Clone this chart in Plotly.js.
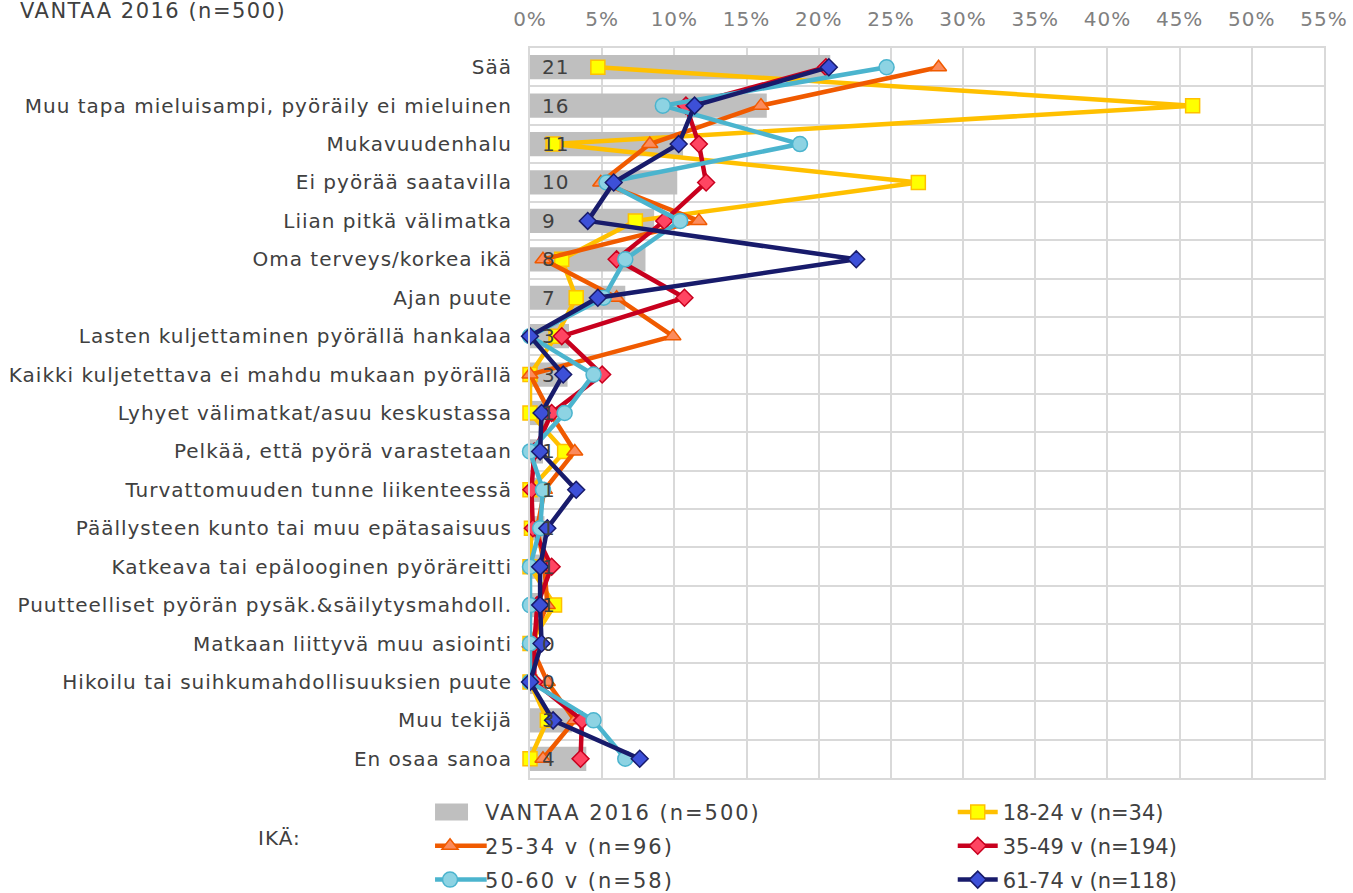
<!DOCTYPE html>
<html>
<head>
<meta charset="utf-8">
<script src="https://cdn.plot.ly/plotly-3.0.1.min.js"></script>
<style>
  html, body { margin: 0; padding: 0; background: #fff; }
  #chart { width: 1353px; height: 893px; }
  .ytick text, .xtick text { letter-spacing: 1px; }
  .legendtext { letter-spacing: 2px; }
  .gtitle { letter-spacing: 1.5px; }
  .annotation-text { letter-spacing: 1px; }
  .legend .legendsymbols, .legend .legendlines { transform: translate(-10px, 0); }
  .legend .legendlines path { transform: translate(-13.33px, 0) scale(1.667, 1); }
  .legend .legendpoints path:not(.scatterpts) { transform: translate(20px, 0) scale(3.83, 1.4); }
</style>
</head>
<body>
<div id="chart"></div>
<script>
const categories = [
  "Sää",
  "Muu tapa mieluisampi, pyöräily ei mieluinen",
  "Mukavuudenhalu",
  "Ei pyörää saatavilla",
  "Liian pitkä välimatka",
  "Oma terveys/korkea ikä",
  "Ajan puute",
  "Lasten kuljettaminen pyörällä hankalaa",
  "Kaikki kuljetettava ei mahdu mukaan pyörällä",
  "Lyhyet välimatkat/asuu keskustassa",
  "Pelkää, että pyörä varastetaan",
  "Turvattomuuden tunne liikenteessä",
  "Päällysteen kunto tai muu epätasaisuus",
  "Katkeava tai epälooginen pyöräreitti",
  "Puutteelliset pyörän pysäk.&säilytysmahdoll.",
  "Matkaan liittyvä muu asiointi",
  "Hikoilu tai suihkumahdollisuuksien puute",
  "Muu tekijä",
  "En osaa sanoa"
];
const vantaa2016 = [20.8, 16.4, 10.6, 10.2, 8.6, 8.0, 6.6, 2.7, 2.6, 1.2, 0.9, 0.8, 1.0, 0.8, 0.9, 0.4, 0.3, 2.9, 3.9];
const age1824 = [4.7, 45.9, 1.6, 26.9, 7.3, 2.2, 3.2, 1.8, 0, 0, 2.4, 0, 0.1, 0, 1.7, 0, 0, 1.2, 0];
const age2534 = [28.3, 16.0, 8.3, 4.9, 11.7, 0.9, 6.0, 9.9, 0, 1.4, 3.1, 1.0, 0.5, 1.0, 1.2, 0, 1.2, 3.1, 0.9];
const age3549 = [20.5, 10.8, 11.7, 12.2, 9.3, 6.0, 10.7, 2.2, 5.0, 1.5, 0.3, 0.1, 0.2, 1.5, 0.5, 0.3, 0.3, 3.6, 3.5];
const age5060 = [24.7, 9.2, 18.7, 5.3, 10.4, 6.6, 5.1, 0, 4.4, 2.4, 0, 0.9, 0.7, 0, 0, 0, 0, 4.4, 6.6];
const age6174 = [20.7, 11.4, 10.3, 5.8, 4.0, 22.6, 4.7, 0, 2.3, 0.8, 0.7, 3.2, 1.2, 0.7, 0.7, 0.8, 0, 1.6, 7.6];
const seriesNames = ["VANTAA 2016 (n=500)", "18-24 v (n=34)", "25-34 v (n=96)", "35-49 v (n=194)", "50-60 v (n=58)", "61-74 v (n=118)"];
const xTickVals = [0, 5, 10, 15, 20, 25, 30, 35, 40, 45, 50, 55];
const xTickText = xTickVals.map(v => v + "%");

const FONT = "DejaVu Sans, Verdana, sans-serif";
const TXT = "#404040";

function lineTrace(name, vals, lineColor, fillColor, symbol, size, legendId) {
  return {
    type: "scatter", mode: "lines+markers", name: name,
    x: vals, y: categories, orientation: "h",
    line: { color: lineColor, width: 4.5 },
    marker: { symbol: symbol, size: size, color: fillColor, line: { color: lineColor, width: 1.5 } },
    hoverinfo: "skip", cliponaxis: false,
    legend: legendId, legendgroup: name
  };
}

const traces = [
  {
    type: "bar", orientation: "h", name: seriesNames[0],
    x: vantaa2016, y: categories,
    marker: { color: "#BFBFBF" }, hoverinfo: "skip",
    legend: "legend", legendgroup: seriesNames[0]
  },
  lineTrace(seriesNames[1], age1824, "#FFC000", "#FFFF00", "square", 14, "legend2"),
  lineTrace(seriesNames[2], age2534, "#F05A00", "#FB8B5C", "triangle-up", 14, "legend"),
  lineTrace(seriesNames[3], age3549, "#C8001E", "#FF4562", "diamond", 13, "legend2"),
  lineTrace(seriesNames[4], age5060, "#4BB4CE", "#8DD3E3", "circle", 15, "legend"),
  lineTrace(seriesNames[5], age6174, "#181B6B", "#3D50D8", "diamond", 13, "legend2")
];

const annotations = categories.map((c, i) => ({
  x: 0, y: c, xref: "x", yref: "y",
  text: String(Math.round(vantaa2016[i])),
  showarrow: false, xanchor: "left", yanchor: "middle", xshift: 10,
  font: { family: FONT, size: 20, color: TXT }
}));
annotations.push({
  x: -0.315, y: -0.082, xref: "paper", yref: "paper",
  text: "IKÄ:", showarrow: false, xanchor: "center", yanchor: "middle",
  font: { family: FONT, size: 20, color: TXT }
});

const legendBase = {
  orientation: "v", yanchor: "top", xanchor: "left", y: -0.019,
  font: { family: FONT, size: 21, color: TXT },
  bgcolor: "rgba(0,0,0,0)", tracegroupgap: 3.5, itemwidth: 40
};

const layout = {
  width: 1353, height: 893,
  margin: { l: 530, r: 29, t: 48, b: 115, pad: 0, autoexpand: false },
  paper_bgcolor: "#ffffff", plot_bgcolor: "#ffffff",
  font: { family: FONT, color: TXT },
  title: {
    text: "VANTAA 2016 (n=500)",
    x: 20 / 1353, xref: "container", xanchor: "left",
    y: 1 - 11 / 893, yref: "container", yanchor: "middle",
    font: { family: FONT, size: 21, color: TXT }
  },
  barmode: "overlay", bargap: 0.37,
  showlegend: true,
  xaxis: {
    side: "top", range: [0, 55], tickvals: xTickVals, ticktext: xTickText,
    showgrid: true, gridcolor: "#D9D9D9", gridwidth: 2,
    zeroline: false, showline: true, linecolor: "#D9D9D9", linewidth: 2, mirror: true,
    ticks: "", ticklabelstandoff: 12,
    tickfont: { family: FONT, size: 20, color: "#808080" },
    fixedrange: true
  },
  yaxis: {
    type: "category", range: [categories.length - 0.5, -0.5],
    categoryorder: "array", categoryarray: categories,
    tickson: "boundaries", showgrid: true, gridcolor: "#D9D9D9", gridwidth: 2,
    showline: true, linecolor: "#D9D9D9", linewidth: 2, mirror: true,
    ticks: "", ticklabelstandoff: 12,
    tickfont: { family: FONT, size: 20, color: TXT },
    fixedrange: true
  },
  legend: Object.assign({}, legendBase, { x: -0.1196 }),
  legend2: Object.assign({}, legendBase, { x: 0.5324 }),
  annotations: annotations
};

Plotly.newPlot("chart", traces, layout, { displayModeBar: false, staticPlot: true });
</script>
</body>
</html>
